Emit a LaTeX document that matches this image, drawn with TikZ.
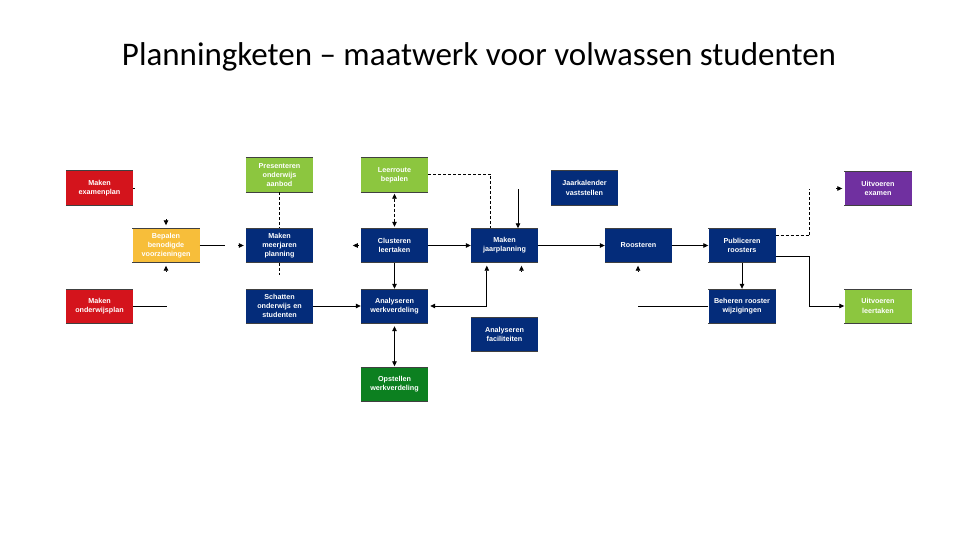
\documentclass[tikz,border=0pt]{standalone}
\usepackage{fontspec}
\setmainfont{Liberation Sans}
\newfontfamily\titlefont{Carlito}
\usetikzlibrary{arrows.meta,calc}
\definecolor{cred}{RGB}{212,20,28}
\definecolor{clgreen}{RGB}{140,198,63}
\definecolor{cnavy}{RGB}{4,44,122}
\definecolor{cyellow}{RGB}{247,190,58}
\definecolor{cpurple}{RGB}{112,48,160}
\definecolor{cdgreen}{RGB}{12,128,32}
\begin{document}
\begin{tikzpicture}[x=1pt,y=-1pt,
  edgeline/.style={draw=black!75,line width=0.6pt},
  box/.style={fill=#1,text=white,minimum width=67pt,minimum height=34pt,inner sep=1pt,
    text width=65pt,align=center,font=\fontsize{7.2}{9.2}\selectfont\bfseries,
    append after command={(\tikzlastnode.north west) edge[edgeline] (\tikzlastnode.north east)
      (\tikzlastnode.south west) edge[edgeline] (\tikzlastnode.south east)}},
  ln/.style={line width=0.8pt},
  arr/.style={ln,-{Triangle[length=5pt,width=4.5pt]}},
  dbl/.style={ln,{Triangle[length=5pt,width=4.5pt]}-{Triangle[length=5pt,width=4.5pt]}},
  dsh/.style={ln,dash pattern=on 3pt off 2pt},
]
\fill[white] (0,0) rectangle (960,540);
\useasboundingbox (0,0) rectangle (960,540);

\node[font=\titlefont\fontsize{33}{40}\selectfont,anchor=base] (title) at (479,66)
  {Planningketen – maatwerk voor volwassen studenten};

% row 1
\node[box=cred] (mex) at (99.5,188) {Maken\\examenplan};
\node[box=clgreen] (pres) at (279.5,175) {Presenteren\\onderwijs\\aanbod};
\node[box=clgreen] (leer) at (394.5,175) {Leerroute\\bepalen};
\node[box=cnavy] (jaar) at (584.5,188) {Jaarkalender\\vaststellen};
\node[box=cpurple] (uex) at (878,188.5) {Uitvoeren\\examen};
% row 2
\node[box=cyellow] (bep) at (166,245.5) {Bepalen\\benodigde\\voorzieningen};
\node[box=cnavy] (mmp) at (279.5,245.5) {Maken\\meerjaren\\planning};
\node[box=cnavy] (clu) at (394.5,245.5) {Clusteren\\leertaken};
\node[box=cnavy] (mjp) at (504.5,245.5) {Maken\\jaarplanning};
\node[box=cnavy] (roo) at (638.5,245.5) {Roosteren};
\node[box=cnavy] (pub) at (742,245.5) {Publiceren\\roosters};
% row 3
\node[box=cred] (mop) at (99.5,306) {Maken\\onderwijsplan};
\node[box=cnavy] (sch) at (279.5,306) {Schatten\\onderwijs en\\studenten};
\node[box=cnavy] (awv) at (394.5,306) {Analyseren\\werkverdeling};
\node[box=cnavy] (beh) at (742,306) {Beheren rooster\\wijzigingen};
\node[box=clgreen] (ule) at (878,306) {Uitvoeren\\leertaken};
% row 4
\node[box=cnavy] (afa) at (504.5,334.5) {Analyseren\\faciliteiten};
\node[box=cdgreen] (opw) at (394.5,384.5) {Opstellen\\werkverdeling};

% connectors
\draw[ln] (mex.east) -- ++(2,0);
\draw[arr] ($(bep.north)+(0,-9)$) -- ($(bep.north)+(0,-3)$);
\draw[arr] ($(bep.south)+(0,9)$) -- ($(bep.south)+(0,3)$);
\draw[ln] (bep.east) -- ++(25,0);
\draw[arr] ($(mmp.west)+(-8,0)$) -- ($(mmp.west)+(-2,0)$);
\draw[ln] (mop.east) -- ++(34,0);
\draw[dsh] (pres.south) -- (mmp.north);
\draw[dsh] (mmp.south) -- ++(0,12);
\draw[arr] (sch.east) -- (awv.west);
\draw[arr] ($(clu.west)+(-2,0)$) -- ($(clu.west)+(-8,0)$);
\draw[dbl,dash pattern=on 3pt off 2pt,shorten <=1.5pt,shorten >=1.5pt] (leer.south) -- (clu.north);
\draw[dsh] ($(leer.east)+(0,-1)$) -| ($(mjp.north west)+(20,0)$);
\draw[arr] (clu.east) -- (mjp.west);
\draw[arr] (clu.south) -- (awv.north);
\coordinate (jin) at (518,189);
\draw[arr] (jin) -- (mjp.north -| jin);
\draw[dbl,shorten <=2pt,shorten >=3pt] (awv.east) -| ($(mjp.south west)+(16,0)$);
\draw[arr] ($(mjp.south)+(17,9)$) -- ($(mjp.south)+(17,3)$);
\draw[arr] (mjp.east) -- (roo.west);
\draw[arr] (roo.east) -- (pub.west);
\draw[arr] ($(roo.south)+(-0.5,9)$) -- ($(roo.south)+(-0.5,3)$);
\draw[dsh] ($(pub.north east)+(0,7.5)$) -- ++(34,0) -- ++(0,-47);
\draw[arr] ($(uex.west)+(-8,0)$) -- ($(uex.west)+(-2,0)$);
\draw[arr] ($(pub.south east)+(0,-6.5)$) -- ++(34,0) |- (ule.west);
\draw[arr] (pub.south) -- (beh.north);
\draw[ln] (beh.west) -- ++(-70,0);
\draw[dbl,shorten <=3pt,shorten >=1pt] (awv.south) -- (opw.north);
\end{tikzpicture}
\end{document}
